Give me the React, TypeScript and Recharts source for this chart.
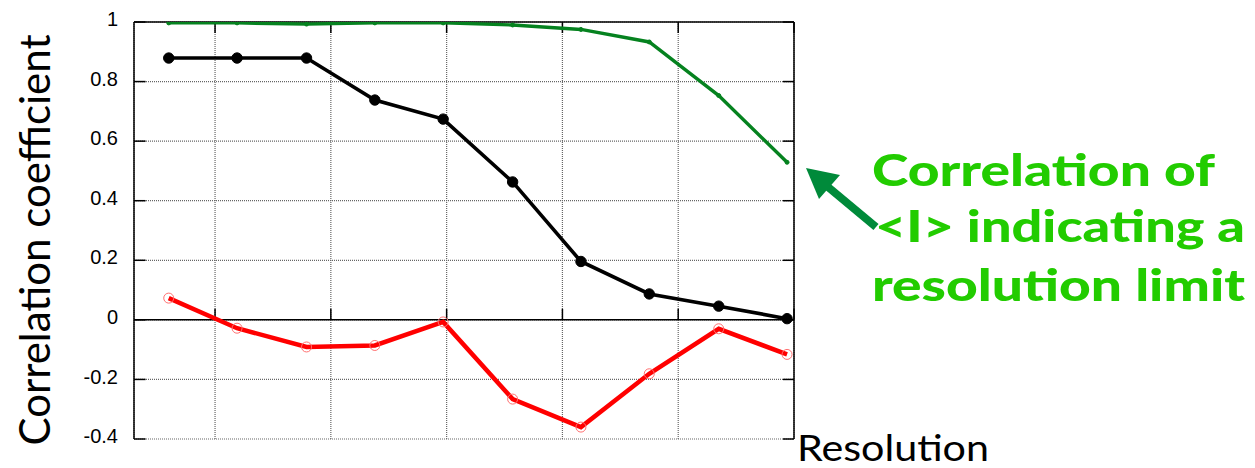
import React from 'react';
import { LineChart, Line, XAxis, YAxis, CartesianGrid, ReferenceLine } from 'recharts';

const resolution = [0.6, 1.19, 1.79, 2.38, 2.97, 3.57, 4.16, 4.75, 5.35, 5.94];
const intensityCorr = [0.997, 0.997, 0.993, 0.997, 0.997, 0.99, 0.975, 0.933, 0.753, 0.529];
const blackCorr = [0.879, 0.879, 0.879, 0.738, 0.674, 0.463, 0.196, 0.087, 0.046, 0.004];
const redCorr = [0.073, -0.028, -0.091, -0.086, -0.007, -0.266, -0.36, -0.181, -0.03, -0.116];
const yTicks = [-0.4, -0.2, 0, 0.2, 0.4, 0.6, 0.8, 1];
const xTicks = [1, 2, 3, 4, 5, 6];
const annotationLines = ['Correlation of', '<I> indicating a', 'resolution limit'];
const X_MIN = 0.3;
const X_MAX = 6;
const Y_MIN = -0.4;
const Y_MAX = 1;

const data = resolution.map((r, i) => ({
  res: r,
  green: intensityCorr[i],
  black: blackCorr[i],
  red: redCorr[i],
}));

const W = 1255;
const H = 468;

const annPos = [
  { x: 872, y: 186, len: 343 },
  { x: 875, y: 242, len: 370 },
  { x: 872, y: 301, len: 373 },
];

export default function App() {
  return (
    <div style={{ position: 'absolute', left: 0, top: 0, width: W, height: H, background: '#fff' }}>
      <LineChart
        width={W}
        height={H}
        data={data}
        margin={{ top: 22, right: 461, bottom: 29, left: 74 }}
      >
        <CartesianGrid stroke="#666" strokeDasharray="1 1" strokeWidth={1.2} />
        <XAxis
          dataKey="res"
          type="number"
          domain={[X_MIN, X_MAX]}
          ticks={xTicks}
          hide
          allowDataOverflow
        />
        <YAxis
          type="number"
          domain={[Y_MIN, Y_MAX]}
          ticks={yTicks}
          width={60}
          interval={0}
          tickLine={false}
          tickSize={0}
          tickMargin={16}
          axisLine={{ stroke: '#000', strokeWidth: 1.5 }}
          tick={{ fontSize: 20, fill: '#000', fontFamily: 'Liberation Sans, Arial, sans-serif', dy: -3 }}
          allowDataOverflow
        />
        <ReferenceLine y={Y_MAX} stroke="#000" strokeWidth={1.5} />
        <ReferenceLine x={X_MAX} stroke="#000" strokeWidth={1.5} />
        <ReferenceLine y={0} stroke="#000" strokeWidth={1.5} />
        {yTicks.map((t) => (
          <ReferenceLine
            key={'yl' + t}
            segment={[{ x: X_MIN, y: t }, { x: X_MIN + 0.1, y: t }]}
            stroke="#000"
            strokeWidth={1.5}
          />
        ))}
        {yTicks.map((t) => (
          <ReferenceLine
            key={'yr' + t}
            segment={[{ x: X_MAX - 0.095, y: t }, { x: X_MAX, y: t }]}
            stroke="#000"
            strokeWidth={1.5}
          />
        ))}
        {xTicks.map((t) => (
          <ReferenceLine
            key={'xt' + t}
            segment={[{ x: t, y: Y_MAX }, { x: t, y: Y_MAX - 0.037 }]}
            stroke="#000"
            strokeWidth={1.5}
          />
        ))}
        {xTicks.map((t) => (
          <ReferenceLine
            key={'xz' + t}
            segment={[{ x: t, y: 0 }, { x: t, y: 0.037 }]}
            stroke="#000"
            strokeWidth={1.5}
          />
        ))}
        <Line
          type="linear"
          dataKey="red"
          stroke="#ff0000"
          strokeWidth={4.5}
          dot={{ r: 5, fill: 'none', stroke: '#ff7070', strokeWidth: 1 }}
          isAnimationActive={false}
        />
        <Line
          type="linear"
          dataKey="black"
          stroke="#000"
          strokeWidth={3.6}
          dot={{ r: 5.2, fill: '#000', stroke: '#000', strokeWidth: 1 }}
          isAnimationActive={false}
        />
        <Line
          type="linear"
          dataKey="green"
          stroke="#05821f"
          strokeWidth={3.4}
          dot={{ r: 2, fill: '#05821f', stroke: '#05821f', strokeWidth: 1 }}
          isAnimationActive={false}
        />
      </LineChart>
      <svg
        width={W}
        height={H}
        style={{ position: 'absolute', left: 0, top: 0, pointerEvents: 'none' }}
      >
        <text
          x={50}
          y={240}
          transform="rotate(-90 50 240)"
          textAnchor="middle"
          fontFamily="Lato, sans-serif"
          fontSize={42}
          fill="#000"
        >
          Correlation coefficient
        </text>
        <text
          x={797}
          y={461}
          fontFamily="Lato, sans-serif"
          fontSize={36}
          fill="#000"
          textLength={192}
          lengthAdjust="spacingAndGlyphs"
        >
          Resolution
        </text>
        <g fontFamily="Lato, sans-serif" fontWeight={900} fontSize={44} fill="#22cc00">
          {annotationLines.map((s, i) => (
            <text
              key={i}
              x={annPos[i].x}
              y={annPos[i].y}
              textLength={annPos[i].len}
              lengthAdjust="spacingAndGlyphs"
            >
              {s}
            </text>
          ))}
        </g>
        <line x1={876} y1={227} x2={822} y2={182} stroke="#008a3a" strokeWidth={8} />
        <polygon points="806,168 840,175 819,199" fill="#008a3a" />
      </svg>
    </div>
  );
}
